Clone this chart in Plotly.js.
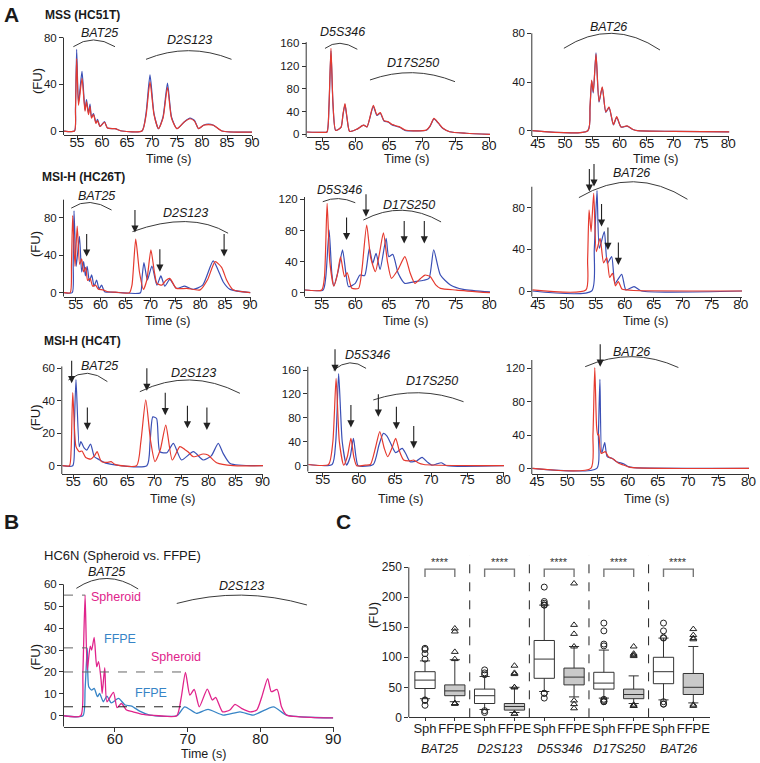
<!DOCTYPE html>
<html><head><meta charset="utf-8">
<script src="https://cdn.plot.ly/plotly-3.0.1.min.js"></script>
<style>html,body{margin:0;padding:0;background:#fff}#chart{width:760px;height:763px}</style>
</head><body><div id="chart"></div>
<script>
// ---------------- DATA ----------------
// Row 1 : MSS (HC51T)
const r1c1_x    = [52.4,54.5,54.7,54.93,55.3,56.0,56.6,56.9,57.3,57.6,57.9,58.3,58.8,59.1,59.6,60.5,61.1,62.6,64,68,68.8,69.6,70.4,71.3,72.2,73.1,73.9,75,76.5,77.6,78.5,79.3,80.3,81.3,82.3,84,90];
const r1c1_blue = [0,0,20,70,24,51,18,27,15,23,12,15,7,10,4,8,2.5,2,0,0,15,48,15,2,12,41,12,2,8,11,9,2,5,6,5,0,-1];
const r1c1_red  = [0,0,18,62,22,45,17,25,14,21,11,14,6.5,9,4,7.5,2.5,2,0,0,13,42,14,2,11,37.5,11,2,8,10.5,8.5,2,5,5.5,5,0,-1];

const r1c2_x    = [52.66,55.0,55.7,56.0,56.3,56.6,57.0,57.8,58.1,58.4,58.7,59.1,60.2,61.2,61.7,62.65,63.2,63.7,64.25,64.9,65.4,66.15,66.6,67.4,68.65,70.6,71.15,71.75,72.4,73.1,74.1,76.6,80.15];
const r1c2_red  = [4,3.5,4,50,151,55,7,12,35,54,30,5,9,16,13,51,34,38,24,22,17.5,14.5,13,7.5,6,7.5,14.5,28,20,10.5,4.5,1.8,0];
const r1c2_blue = [4,3.5,4,48,147,53,7,12,34,52,29,5,9,16,13,49,33,37,23.5,21.5,17,14,12.5,7,6,7,14,27,19.5,10,4.5,1.8,0];

const r1c3_x    = [44.0,54.2,54.6,54.9,55.2,55.7,56.25,56.85,57.5,58.1,58.9,59.5,60.3,61.4,62.5,63.3,70,80.2];
const r1c3_red  = [0,0,20,41.5,32,63,24,36,15.5,19.5,5,11.5,3,4,1,0,-0.5,-1];
const r1c3_blue = [0,0,19,41,31,64,23.5,35.5,15,19,4.8,11,3,3.8,1,0,-0.5,-1];

// Row 2 : MSI-H (HC26T)
const r2c1_xr   = [52.65,53.9,54.15,54.4,54.86,55.3,55.8,56.2,56.6,57.0,57.4,57.9,58.4,59.0,59.5,60.5,61.5,63,65.8,66.3,67.05,67.8,68.6,69.3,70.1,70.8,71.3,72.3,73.1,73.9,75.2,77.3,80,81.5,83,84.3,85.3,86.6,90.1];
const r2c1_red  = [0,0,30,82,28,71,30,36,22,27,13,15,7,8,4,3,1,0.5,0,8,57,22,3.5,14,45.5,22,10,8,13,15.3,4.6,4.6,3,14,33,27,13.5,3,0];
const r2c1_xb   = [52.65,54.3,54.5,54.66,55.1,55.75,56.2,56.6,56.95,57.3,57.75,58.2,58.7,59.2,59.7,60.2,60.8,62,64,68,68.3,68.7,69.4,70.3,71.3,72.1,72.9,73.9,75.2,76.9,78.6,80.5,82.6,83.6,84.6,86,90.1];
const r2c1_blue = [0,0,30,87,28,60,22,33,18,28,12,19,7,13.5,4,8,1,0.5,0,0,15,32,13.5,28.4,8,17.8,7,14.2,4.6,7,3.5,8,33.8,24,11.7,3.5,0];

const r2c2_xr   = [52.5,55.0,55.4,55.8,56.2,56.8,57.3,57.8,58.4,58.8,59.5,60.5,61.0,61.7,62.3,63.0,63.6,64.2,64.8,65.4,66.4,67.4,68.2,68.9,69.7,70.4,71.2,72.0,72.7,75.1,80.1];
const r2c2_red  = [3.5,3.5,20,115,40,8.6,22,46,20.6,25.7,5.6,5.6,30,87,45,27,50,77,40,18.4,30,46.3,25,12,18,22.7,20.6,10,5.6,3.4,0];
const r2c2_xb   = [52.5,55.2,55.6,56.1,56.5,56.8,57.5,58.1,58.6,59.0,60.0,60.7,61.4,62.1,62.6,63.1,63.7,64.6,65.0,65.6,66.4,67.4,68.7,70.2,71.0,71.7,72.7,74.2,76.1,80.1];
const r2c2_blue = [3.5,3.5,20,80.6,25,8.6,30,55,25,7.7,12,22.7,22,57,37.7,50.6,30,70,46.3,49.3,24.9,12,14,16,18.4,55,22.7,10,4.3,1];

const r2c3_xr   = [44.07,53.3,53.6,53.85,54.2,54.65,55.1,55.75,56.35,56.9,57.4,57.9,58.4,58.9,59.5,60.3,61.5,80.2];
const r2c3_red  = [1,1,30,77.8,57,93.8,37.8,50.6,27,32,13,17,5,9,2,1,0.5,0];
const r2c3_xb   = [44.07,54.3,54.75,55.22,55.62,56.48,57.0,57.75,58.32,59.47,60.2,61.6,62.9,80.2];
const r2c3_blue = [0,0,40,96.3,41,57,26.6,33,7.4,16,1,4.2,0,0];

// Row 3 : MSI-H (HC4T)
const r3c1_xr   = [52.97,54.3,54.6,54.9,55.5,56.1,56.6,57.3,58.2,58.9,59.4,60.2,61.2,62.0,62.7,66.7,67.5,68.4,69.3,70.1,71.1,72.1,73.3,74.7,75.6,76.2,77.2,79.0,79.9,81.5,84.6,90.07];
const r3c1_red  = [0,0,10,45,11.7,8.6,9,5,4,6,8.6,2.5,2,2.5,0.8,0,15,40.4,15,2.5,10,25,3.5,11.7,10,8.6,5.5,7.2,6.6,1.8,0,0];
const r3c1_xb   = [52.97,54.9,55.2,55.5,56.1,56.4,57.0,57.5,58.2,58.9,59.7,61.2,68.6,69.2,69.7,70.4,71.0,72.3,73.5,75.0,77.2,79.0,80.5,81.8,82.7,84.0,90.07];
const r3c1_blue = [0,0,25,53,11.7,14.8,11,9.6,13.3,5.5,3.9,1.4,0,15,30,29,8.6,8,13.7,3.5,8.6,3.5,6,13.7,7.6,1.4,0];

const r3c2_xr   = [53,55.8,56.4,56.85,57.3,57.9,58.4,58.9,59.3,59.7,60.9,61.6,62.3,62.9,63.5,64.0,64.6,65.1,65.6,66.2,67.0,67.6,68.2,69.0,80.1];
const r3c2_red  = [2,2,40,146,40,1,15,45.7,15,0,1,2,30,57,30,15,30,45.7,25,9.5,8,9.5,5,2,0];
const r3c2_xb   = [53,56.3,56.8,57.2,57.7,58.3,58.8,59.25,59.6,59.9,62.0,62.8,63.4,63.9,64.5,65.1,66.0,66.5,67.1,68.0,68.75,69.5,70.1,70.8,71.4,72.2,80.1];
const r3c2_blue = [2,2,40,154,40,1,15,45.7,15,0,2,35,54,49.6,35,22,29,20,6.7,8,14,6,1,3,5,0,0];

const r3c3_xr   = [44.2,53.9,54.25,54.55,54.85,55.05,55.2,55.6,56.3,56.8,57.65,58.5,59.3,60.4,80.1];
const r3c3_red  = [0,0,40,121,50,40,40.8,18,20,14,10.8,6,4,1.2,0];
const r3c3_xb   = [44.2,54.9,55.15,55.4,55.7,56.2,56.6,57.4,58.2,59.4,60.1,61.0,80.1];
const r3c3_blue = [0,0,40,106.8,18,30.8,14,12,8,5.2,2,0.8,0];

// Panel B : HC6N (Spheroid vs. FFPE)
const b_sph_x = [53,55.3,55.6,55.9,56.2,56.6,56.8,57.15,57.5,57.75,58.1,58.25,58.6,58.9,59.8,60.3,60.9,61.6,62.5,63.9,66,68.5,69.1,69.7,70.3,70.9,71.6,72.7,73.4,73.85,74.8,75.8,76.5,77.4,78.6,79.5,80.2,81.0,81.5,82.3,82.9,83.6,85.4,90];
const b_sph_y = [0,0,20,55.1,20.9,31.8,30,35.8,22.4,24.7,16.3,10.2,22,6.4,10.7,3.7,5.6,2.6,1.8,0.6,0,0,8,19.8,9.4,12,4.1,12.2,7.2,8.4,1.8,2.6,5.2,3.4,1.8,2.6,8.7,17,11,12,4.1,0.3,-0.5,-1];
const b_ffpe_x = [53,55.6,55.9,56.2,56.4,56.8,57.15,57.6,57.9,58.4,58.9,59.5,60.5,61.4,62.3,63.4,64.8,68.5,69.6,71.2,72.8,74.9,77.2,79,81.8,83.6,90];
const b_ffpe_y = [0,0,12,30.8,13.2,11.7,12.5,8.7,10.2,6.4,9,5.9,7.9,4.9,4.4,2.1,0.3,0,4.1,1.1,2.9,0.3,1.8,0.3,4.1,0.3,-1];
const b_guides = [[55.1,55.9],[31,56.2],[20,69.7],[4.1,69.6]]; // [level, peak time]

// Panel C : box plots
const c_groups   = ['BAT25','D2S123','D5S346','D17S250','BAT26'];
const c_sub      = ['Sph','FFPE'];
const sph_q1     = [48,23,65,47,56];
const sph_median = [62,36,97,57,76];
const sph_q3     = [76,47,128,75,100];
const sph_lo     = [31,13,43,32,29];
const sph_hi     = [94,68,187,112,132];
const ffpe_q1    = [36,12,54,31,38];
const ffpe_median= [44,18,67,38,50];
const ffpe_q3    = [54,23,82,47,73];
const ffpe_lo    = [26,8,34,23,24];
const ffpe_hi    = [96,50,118,69,118];
const sph_out  = [[115,113,106,97,29,28,20],[79,74,71,11,8],[217,193,190,187,187,40,40,32],[157,144,122,119,30,28,26,26],[157,144,133,132,26,22,22]];
const ffpe_out = [[148,143,109,97,23,23,23,23],[86,74,72,50,50,6,6],[223,154,139,118,28,22,15],[118,106,104,102,19,19,21],[147,137,132,130,21,19]];
const c_sig = ['****','****','****','****','****'];

// Annotation marks: arcs [panel, label, x0,y0, xm,ym, x1,y1, labelX, labelY]
const arcSpecs = [
 [1,'BAT25',54.27,72.2,58.3,78,62.6,72.2,59.5,84.2],
 [1,'D2S123',68.8,61.4,77.3,68.8,85.9,61.4,77.5,78],
 [2,'D5S346',55.4,151,57.65,160,60.25,149.5,58.06,179],
 [2,'D17S250',62.15,95.5,68.55,108.3,74.9,92.5,68.55,125.9],
 [3,'BAT26',49.8,67.7,58.6,80,67.45,66.3,57.95,85.4],
 [4,'BAT25',54.1,90,57.9,96,62.2,88,59.2,103],
 [4,'D2S123',66.4,65,77.0,75.7,85.6,63.3,77.0,84.6],
 [5,'D5S346',55.15,117,57.5,121,60.0,115.7,57.6,132],
 [5,'D17S250',61.2,93.4,67.0,106,72.8,91,68.0,112.8],
 [6,'BAT26',52.1,89.6,61.5,104.8,70.8,88,61.2,112.9],
 [7,'BAT25',54.1,52.7,57.65,56.8,61.3,51.7,59.9,61.3],
 [7,'D2S123',67.3,45.5,76.5,52.7,85.8,44.5,77.3,56.8],
 [8,'D5S346',56.5,160,58.75,172,61.0,162.8,61.2,185],
 [8,'D17S250',62,110,68.3,122,74.5,107,70.1,141.6],
 [9,'BAT26',52.96,122,60.7,134,68.4,121,60.7,140],
 [10,'BAT25',54.7,58.2,58.9,62.7,63.2,57.9,58.9,65.8],
 [10,'D2S123',68.5,51.3,77.4,55.1,86.4,50.6,77.4,59.2]
];
// arrows [panel, x tip, y tip]
const arrowSpecs = [
 [4,57.2,38.4],[4,66.9,64],[4,71.9,22.4],[4,84.8,38.4],
 [5,58.7,67.7],[5,61.6,97.7],[5,67.3,63.4],[5,70.3,63.4],
 [6,53.9,95.4],[6,54.7,100.2],[6,56.0,61.8],[6,57.1,39.4],[6,58.9,25],
 [7,54.7,50.7],[7,57.6,22],[7,68.6,46],[7,72.0,31],[7,76.1,23],[7,79.7,22],
 [8,56.7,157],[8,58.9,64],[8,62.7,82],[8,65.2,60.8],[8,67.6,29],
 [9,55.45,122]
];

// ---------------- LAYOUT ----------------
const W=760,H=763;
const FONT='"Liberation Sans", Arial, Helvetica, sans-serif';
const RED='#e53a2f', BLUE='#3a4fb5', MAG='#e0238b', FBLUE='#3784c6', INK='#1a1a1a', AXC='#333';
const t55_90=[55,60,65,70,75,80,85,90], t55_80=[55,60,65,70,75,80], t45_80=[45,50,55,60,65,70,75,80];
const panels=[
 {id:1, px:[64,252],    py:[30,135],    xr:[52.4,90],     yr:[-3.4,86.5],  top:80,    xt:t55_90, yt:[0,40,80]},
 {id:2, px:[306.7,490], py:[28,137.3],  xr:[52.66,80.15], yr:[-5.3,186.9], top:162,   xt:t55_80, yt:[0,40,80,120,160]},
 {id:3, px:[532.3,729.4],py:[22,136],   xr:[44,80.2],     yr:[-4.35,89.3], top:80,    xt:t45_80, yt:[0,40,80]},
 {id:4, px:[64,250.5],  py:[190,296.7], xr:[52.65,90.1],  yr:[-4.27,109.3],top:99,    xt:t55_90, yt:[0,40,80]},
 {id:5, px:[305,490],   py:[186,296.7], xr:[52.5,80.1],   yr:[-5.14,137.2],top:123,   xt:t55_80, yt:[0,40,80,120]},
 {id:6, px:[532.3,742], py:[168,296.7], xr:[44.07,80.2],  yr:[-5.47,118],  top:100,   xt:t45_80, yt:[0,40,80]},
 {id:7, px:[62.3,263],  py:[358,474],   xr:[52.97,90.07], yr:[-5.1,66.2],  top:61,    xt:t55_90, yt:[0,20,40,60]},
 {id:8, px:[308.3,504], py:[350,471.7], xr:[53,80.1],     yr:[-10,193.5],  top:165.5, xt:t55_80, yt:[0,40,80,120,160]},
 {id:9, px:[532.3,749], py:[346,474],   xr:[44.2,80.1],   yr:[-6.8,146.8], top:130,   xt:t45_80, yt:[0,40,80,120]},
 {id:10,px:[64,333.5],  py:[566,726.7], xr:[53,90.05],    yr:[-5,68.4],    top:60,    xt:[60,70,80,90], yt:[0,10,20,30,40,50,60], xfs:14.5, xso:-5},
 {id:11,px:[409.3,710], py:[553,717.3], xr:[-0.527,9.56], yr:[0,273.8],    top:250,   xt:[0,1,2,3,4,5,6,7,8,9], yt:[0,50,100,150,200,250], xfs:13, yfs:12, xso:-4}
];
function xn(p){return p===1?'x':'x'+p;}
function yn(p){return p===1?'y':'y'+p;}

const layout={width:W,height:H,margin:{l:0,r:0,t:0,b:0},paper_bgcolor:'#fff',plot_bgcolor:'rgba(0,0,0,0)',
  showlegend:false,font:{family:FONT,color:INK},shapes:[],annotations:[],boxmode:'overlay'};

panels.forEach(p=>{
  const xk=p.id===1?'xaxis':'xaxis'+p.id, yk=p.id===1?'yaxis':'yaxis'+p.id;
  layout[xk]={domain:[p.px[0]/W,p.px[1]/W],range:p.xr,anchor:yn(p.id),showline:true,linecolor:AXC,linewidth:1,
    ticks:'outside',ticklen:4,tickcolor:AXC,tickwidth:1,tickmode:'array',tickvals:p.xt,tickangle:0,
    ticklabelstandoff:(p.xso!==undefined?p.xso:-9),
    tickfont:{size:p.xfs||13.5,color:INK,family:FONT},showgrid:false,zeroline:false,fixedrange:true};
  layout[yk]={domain:[1-p.py[1]/H,1-p.py[0]/H],range:p.yr,anchor:xn(p.id),showline:false,
    ticks:'outside',ticklen:4,tickcolor:AXC,tickwidth:1,tickmode:'array',tickvals:p.yt,
    tickfont:{size:p.yfs||11.5,color:INK,family:FONT},showgrid:false,zeroline:false,fixedrange:true};
  // y axis line ending at the top tick
  layout.shapes.push({type:'line',xref:'paper',yref:yn(p.id),x0:(p.px[0]-0.5)/W,x1:(p.px[0]-0.5)/W,
    y0:p.yr[0],y1:p.top,line:{color:AXC,width:1}});
});
layout.xaxis11.ticktext=[].concat(...c_groups.map(()=>c_sub));
layout.xaxis11.ticklen=3;

// ---------------- TRACES ----------------
const traces=[];
function line(pid,xs,ys,color,w){traces.push({type:'scatter',mode:'lines',x:xs,y:ys,xaxis:xn(pid),yaxis:yn(pid),
  line:{color:color,width:w||1.2,shape:'spline',smoothing:0.6},hoverinfo:'skip',showlegend:false});}
line(1,r1c1_x,r1c1_blue,BLUE); line(1,r1c1_x,r1c1_red,RED);
line(2,r1c2_x,r1c2_blue,BLUE); line(2,r1c2_x,r1c2_red,RED);
line(3,r1c3_x,r1c3_blue,BLUE); line(3,r1c3_x,r1c3_red,RED);
line(4,r2c1_xb,r2c1_blue,BLUE); line(4,r2c1_xr,r2c1_red,RED);
line(5,r2c2_xb,r2c2_blue,BLUE); line(5,r2c2_xr,r2c2_red,RED);
line(6,r2c3_xb,r2c3_blue,BLUE); line(6,r2c3_xr,r2c3_red,RED);
line(7,r3c1_xb,r3c1_blue,BLUE); line(7,r3c1_xr,r3c1_red,RED);
line(8,r3c2_xb,r3c2_blue,BLUE); line(8,r3c2_xr,r3c2_red,RED);
line(9,r3c3_xb,r3c3_blue,BLUE); line(9,r3c3_xr,r3c3_red,RED);
line(10,b_ffpe_x,b_ffpe_y,FBLUE,1.3); line(10,b_sph_x,b_sph_y,MAG,1.3);

// Panel C boxes
const sphPos=c_groups.map((g,i)=>2*i), ffpePos=c_groups.map((g,i)=>2*i+1);
traces.push({type:'box',x:sphPos,q1:sph_q1,median:sph_median,q3:sph_q3,lowerfence:sph_lo,upperfence:sph_hi,
  xaxis:'x11',yaxis:'y11',boxpoints:false,width:0.68,whiskerwidth:0.5,fillcolor:'#ffffff',line:{color:AXC,width:1},hoverinfo:'skip'});
traces.push({type:'box',x:ffpePos,q1:ffpe_q1,median:ffpe_median,q3:ffpe_q3,lowerfence:ffpe_lo,upperfence:ffpe_hi,
  xaxis:'x11',yaxis:'y11',boxpoints:false,width:0.68,whiskerwidth:0.5,fillcolor:'#c9c9c9',line:{color:AXC,width:1},hoverinfo:'skip'});
const sox=[],soy=[],fox=[],foy=[];
sph_out.forEach((arr,i)=>arr.forEach(v=>{sox.push(2*i);soy.push(v);}));
ffpe_out.forEach((arr,i)=>arr.forEach(v=>{fox.push(2*i+1);foy.push(v);}));
traces.push({type:'scatter',mode:'markers',x:sox,y:soy,xaxis:'x11',yaxis:'y11',
  marker:{symbol:'circle-open',size:6,color:'#222',line:{width:1}},hoverinfo:'skip'});
traces.push({type:'scatter',mode:'markers',x:fox,y:foy,xaxis:'x11',yaxis:'y11',
  marker:{symbol:'triangle-up-open',size:6,color:'#222',line:{width:1}},hoverinfo:'skip'});

// ---------------- DECORATIONS ----------------
arcSpecs.forEach(a=>{
  const [p,lab,x0,y0,xm,ym,x1,y1,lx,ly]=a;
  const cx=2*xm-(x0+x1)/2, cy=2*ym-(y0+y1)/2;
  layout.shapes.push({type:'path',xref:xn(p),yref:yn(p),path:`M ${x0},${y0} Q ${cx},${cy} ${x1},${y1}`,
    line:{color:'#3a3a3a',width:1}});
  layout.annotations.push({text:'<i>'+lab+'</i>',x:lx,y:ly,xref:xn(p),yref:yn(p),showarrow:false,
    font:{size:12.5,color:INK,family:FONT},xanchor:'center',yanchor:'middle'});
});
arrowSpecs.forEach(a=>{
  layout.annotations.push({text:'',x:a[1],y:a[2],xref:xn(a[0]),yref:yn(a[0]),showarrow:true,ax:0,ay:-24,
    arrowhead:2,arrowsize:1.3,arrowwidth:1.1,arrowcolor:'#222'});
});
// Panel B guide lines
b_guides.forEach((g,i)=>{
  layout.shapes.push({type:'line',xref:'x10',yref:'y10',x0:53,x1:g[1],y0:g[0],y1:g[0],
    line:{color:i===3?'#222':'#666',width:1,dash:'dash'}});
});
// Panel B inline labels
[['Spheroid',60.1,54.4,MAG],['FFPE',60.7,34.9,FBLUE],['Spheroid',68.4,27,MAG],['FFPE',65.0,10.2,FBLUE]].forEach(t=>{
  layout.annotations.push({text:t[0],x:t[1],y:t[2],xref:'x10',yref:'y10',showarrow:false,
    font:{size:12.5,color:t[3],family:FONT},xanchor:'center',yanchor:'middle'});
});
// Panel C dividers, brackets, stars, group names
for(let i=0;i<4;i++){
  layout.shapes.push({type:'line',xref:'x11',yref:'y11',x0:2*i+1.5,x1:2*i+1.5,y0:0,y1:270,line:{color:'#222',width:1,dash:'dash'}});
}
c_groups.forEach((g,i)=>{
  layout.shapes.push({type:'path',xref:'x11',yref:'y11',path:`M ${2*i},234 L ${2*i},247 L ${2*i+1},247 L ${2*i+1},234`,
    line:{color:'#777',width:1.4}});
  layout.annotations.push({text:c_sig[i],x:2*i+0.5,y:259,xref:'x11',yref:'y11',showarrow:false,
    font:{size:11,color:'#333',family:FONT},xanchor:'center',yanchor:'middle'});
  layout.annotations.push({text:'<i>'+g+'</i>',x:2*i+0.5,y:1-749.3/H,xref:'x11',yref:'paper',showarrow:false,
    font:{size:12.5,color:INK,family:FONT},xanchor:'center',yanchor:'middle'});
});

// Paper texts
function ptext(t,px,py,size,extra){layout.annotations.push(Object.assign({text:t,x:px/W,y:1-py/H,xref:'paper',yref:'paper',
  showarrow:false,font:{size:size,color:INK,family:FONT},xanchor:'center',yanchor:'middle'},extra||{}));}
ptext('<b>A</b>',11,14,21);
ptext('<b>B</b>',11,521.5,21);
ptext('<b>C</b>',343,521.5,21);
ptext('<b>MSS (HC51T)</b>',43,15,12,{xanchor:'left'});
ptext('<b>MSI-H (HC26T)</b>',40,176.7,12,{xanchor:'left'});
ptext('<b>MSI-H (HC4T)</b>',42,340.8,12,{xanchor:'left'});
ptext('HC6N (Spheroid vs. FFPE)',41.7,555,13,{xanchor:'left'});
[[37,81],[35,244],[34.5,418],[35,657],[373,615]].forEach(q=>ptext('(FU)',q[0],q[1],13,{textangle:-90}));
[[168,159],[406,159],[655,159],[167,321],[405,321],[645,321],[172,499],[400,499],[646,499],[203,754]].forEach(q=>ptext('Time (s)',q[0],q[1],12.5));

Plotly.newPlot('chart',traces,layout,{staticPlot:true,displayModeBar:false});
</script></body></html>
